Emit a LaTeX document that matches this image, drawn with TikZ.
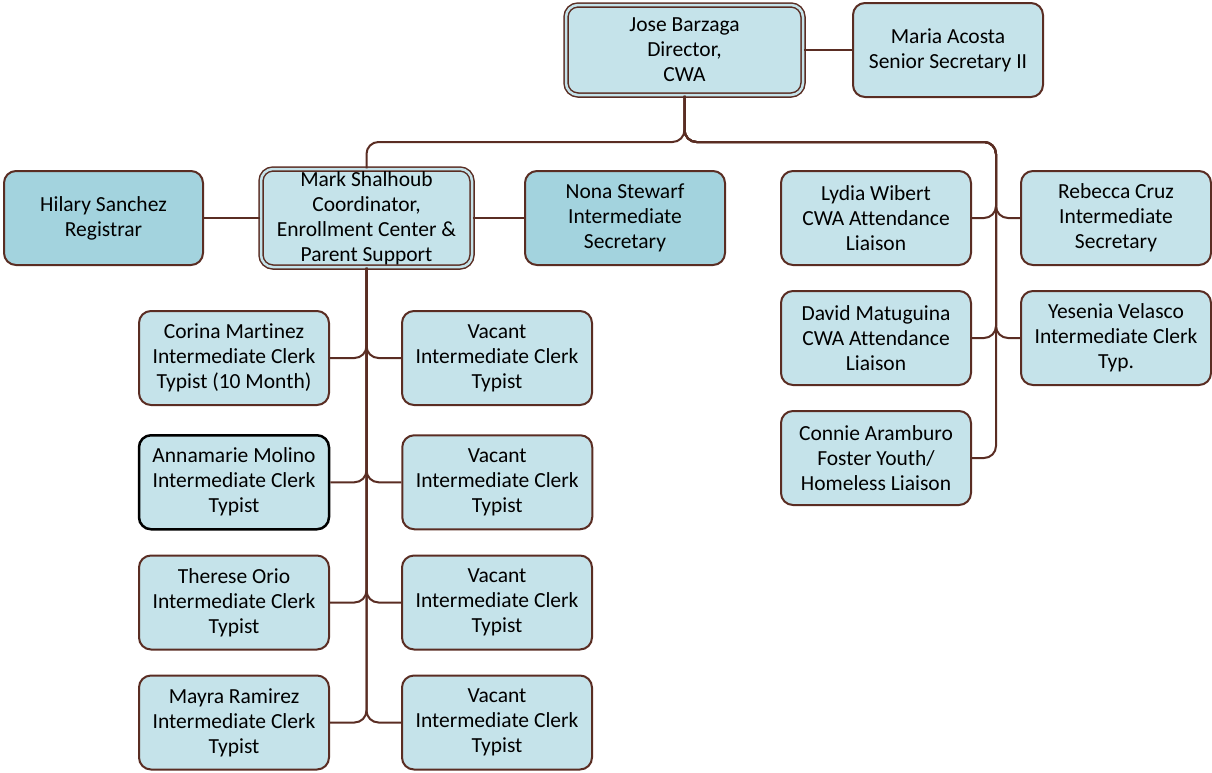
\documentclass[tikz,border=0pt]{standalone}
\usepackage{fontspec}
\setmainfont{Carlito}[Ligatures=NoCommon]
\usepackage{xcolor}
\usepackage{tikz}
\usetikzlibrary{positioning}
\definecolor{staffblue}{HTML}{C5E3EA}
\definecolor{leadblue}{HTML}{A3D3DE}
\definecolor{linkbrown}{HTML}{5A2D23}
\tikzset{
  every node/.style={font=\fontsize{21.5}{25}\selectfont},
  staff/.style={draw=linkbrown, line width=2pt, rectangle, rounded corners=12pt, align=center, inner sep=0pt, fill=staffblue, minimum width=190pt, minimum height=94pt},
  keystaff/.style={staff, fill=leadblue, minimum width=199pt},
  headbox/.style={staff, double=staffblue, double distance=2.5pt, line width=1.5pt},
  link/.style={draw=linkbrown, line width=2pt, rounded corners=12pt}
}
\begin{document}
\begin{tikzpicture}[x=1pt, y=-1pt, node distance=24pt and 71pt]
\useasboundingbox (0,0) rectangle (1212,772);

% Director and secretary
\node[headbox, minimum width=237pt, minimum height=90pt] (jose) at (684.5,50) {Jose Barzaga\\Director,\\CWA};
\node[staff] (maria) at (948,50) {Maria Acosta\\Senior Secretary II};

% Enrollment center row
\node[headbox, minimum width=211pt, minimum height=98pt] (mark) at (366.5,218) {Mark Shalhoub\\Coordinator,\\Enrollment Center \&\\Parent Support};
\node[keystaff] (hilary) at (103.5,218) {Hilary Sanchez\\Registrar};
\node[keystaff, minimum width=200pt] (nona) at (625,218) {Nona Stewarf\\Intermediate\\Secretary};

% Clerks under Mark
\node[staff] (corina) at (234,358) {Corina Martinez\\Intermediate Clerk\\Typist (10 Month)};
\node[staff, draw=black, line width=2.5pt, below=28pt of corina] (annamarie) {Annamarie Molino\\Intermediate Clerk\\Typist};
\node[staff, below=of annamarie] (therese) {Therese Orio\\Intermediate Clerk\\Typist};
\node[staff, below=of therese] (mayra) {Mayra Ramirez\\Intermediate Clerk\\Typist};
\node[staff, right=of corina] (vacanta) {Vacant\\Intermediate Clerk\\Typist};
\node[staff, right=of annamarie] (vacantb) {Vacant\\Intermediate Clerk\\Typist};
\node[staff, right=of therese] (vacantc) {Vacant\\Intermediate Clerk\\Typist};
\node[staff, right=of mayra] (vacantd) {Vacant\\Intermediate Clerk\\Typist};

% Liaisons on the right
\node[staff] (lydia) at (876,218) {Lydia Wibert\\CWA Attendance\\Liaison};
\node[staff, right=48pt of lydia] (rebecca) {Rebecca Cruz\\Intermediate\\Secretary};
\node[staff, below=of lydia] (david) {David Matuguina\\CWA Attendance\\Liaison};
\node[staff, below=of rebecca] (yesenia) {Yesenia Velasco\\Intermediate Clerk\\Typ.};
\node[staff, below=of david] (connie) {Connie Aramburo\\Foster Youth/\\Homeless Liaison};

% Connectors
\coordinate (fork) at (366.5,142);
\coordinate (trunk) at (996,142);
\draw[link] (jose) -- (maria);
\draw[link] (jose.south) |- (fork) -- (mark.north);
\draw[link] (mark) -- (hilary);
\draw[link] (mark) -- (nona);
\foreach \clerk in {corina,annamarie,therese,mayra}
  \draw[link] (mark.south) |- (\clerk.east);
\foreach \clerk in {vacanta,vacantb,vacantc,vacantd}
  \draw[link] (mark.south) |- (\clerk.west);
\foreach \liaison in {lydia,david,connie}
  \draw[link] (jose.south) |- (trunk) |- (\liaison.east);
\foreach \liaison in {rebecca,yesenia}
  \draw[link] (jose.south) |- (trunk) |- (\liaison.west);

\end{tikzpicture}
\end{document}
